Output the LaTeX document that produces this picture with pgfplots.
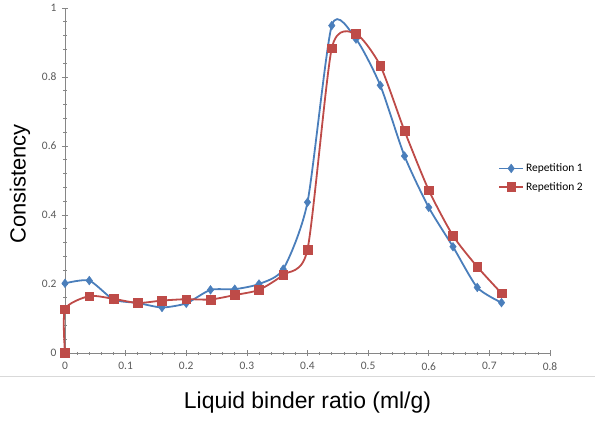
\documentclass[border=0pt]{standalone}
\usepackage{fontspec}
\setmainfont{Liberation Sans}
\newfontfamily\carlito{Carlito}
\usepackage{pgfplots}
\pgfplotsset{compat=1.18}
\definecolor{repblue}{HTML}{4A7EBB}
\definecolor{repred}{HTML}{BE4B48}
\definecolor{axgray}{HTML}{868686}
\definecolor{ticktext}{HTML}{595959}
\begin{document}
\begin{tikzpicture}
\useasboundingbox (-65bp,-71bp) rectangle (535bp,353bp);
\begin{axis}[
  at={(0,0)}, anchor=south west,
  scale only axis, width=485bp, height=345bp,
  xmin=0, xmax=0.8, ymin=0, ymax=1,
  axis x line=bottom, axis y line=left,
  axis line style={-, draw=axgray, line width=0.8bp},
  xtick={0,0.1,0.2,0.3,0.4,0.5,0.6,0.7,0.8},
  xticklabels={0,0.1,0.2,0.3,0.4,0.5,0.6,0.7,0.8},
  ytick={0,0.2,0.4,0.6,0.8,1},
  yticklabels={0,0.2,0.4,0.6,0.8,1},
  minor tick num=4,
  tick align=center,
  major tick length=6bp, minor tick length=3bp,
  tick style={draw=axgray, line width=0.7bp},
  ticklabel style={font=\carlito\fontsize{11.5}{13}\selectfont, text=ticktext},
  xticklabel style={yshift=-3bp},
  yticklabel style={xshift=-2bp},
  xlabel={Liquid binder ratio (ml/g)},
  ylabel={Consistency},
  xlabel style={font=\fontsize{23}{26}\selectfont, at={(axis description cs:0.5,-0.145)}, anchor=center},
  ylabel style={font=\fontsize{22}{25}\selectfont, at={(axis description cs:-0.093,0.49)}, anchor=center},
  legend style={at={(axis description cs:0.893,0.555)}, anchor=north west, draw=none, fill=none,
    font=\carlito\fontsize{11.5}{13}\selectfont, row sep=5bp, inner sep=0pt},
  legend cell align=left,
  legend image code/.code={\draw[mark repeat=2,mark phase=2] plot coordinates {(0bp,0bp)(12bp,0bp)(24bp,0bp)};},
  clip=false,
]
\addplot[color=repblue, line width=1.8bp, smooth, tension=0.4, mark=diamond*, mark size=4.3bp, mark options={fill=repblue, line width=0.5bp}]
coordinates {
(0,0.202)(0.04,0.210)(0.08,0.155)(0.12,0.145)(0.16,0.132)(0.20,0.144)(0.24,0.183)(0.28,0.185)(0.32,0.200)(0.36,0.243)(0.40,0.437)(0.44,0.949)(0.48,0.910)(0.52,0.776)(0.56,0.571)(0.60,0.422)(0.64,0.308)(0.68,0.190)(0.72,0.146)
};
\addlegendentry{Repetition 1}
\addplot[color=repred, line width=1.8bp, smooth, tension=0.4, mark=square*, mark size=4.3bp, mark options={fill=repred, line width=0.5bp}]
coordinates {
(0,0)(0,0.127)(0.04,0.165)(0.08,0.157)(0.12,0.145)(0.16,0.152)(0.20,0.156)(0.24,0.155)(0.28,0.168)(0.32,0.183)(0.36,0.227)(0.40,0.300)(0.44,0.883)(0.48,0.925)(0.52,0.833)(0.56,0.644)(0.60,0.472)(0.64,0.340)(0.68,0.250)(0.72,0.173)
};
\addlegendentry{Repetition 2}
\end{axis}
\draw[color=black!15, line width=0.8bp] (-65bp,-23bp) -- (530bp,-23bp);
\end{tikzpicture}
\end{document}
